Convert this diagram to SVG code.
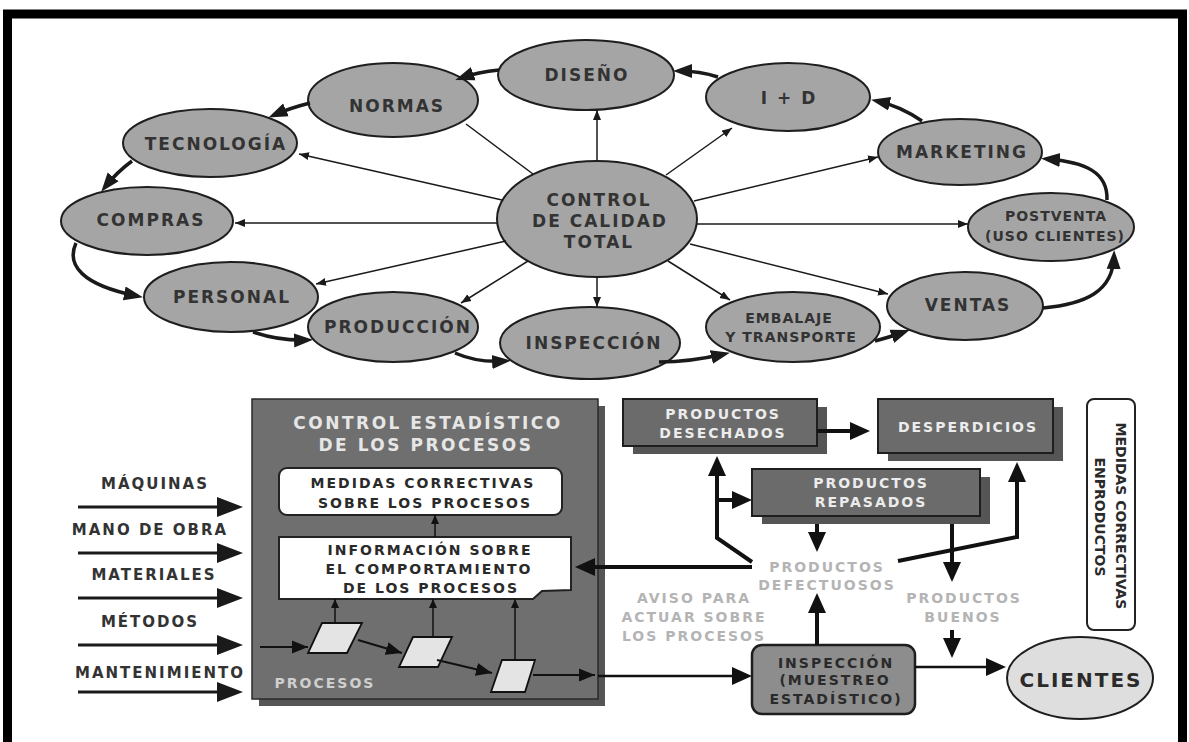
<svg xmlns="http://www.w3.org/2000/svg" width="1189" height="742" viewBox="0 0 1189 742">
<style>
.el{fill:#a5a5a5;stroke:#1e1e1e;stroke-width:2}
.t{font-family:'DejaVu Sans','Liberation Sans',sans-serif;font-weight:bold;text-anchor:middle}
.tl{font-size:17px;letter-spacing:2px;fill:#333}
.ts{font-size:14px;letter-spacing:1px;fill:#333}
.lab{font-size:15px;letter-spacing:2px;fill:#333}
.bx{font-size:14px;letter-spacing:2px}
.ttl{font-size:17px;letter-spacing:2.5px;fill:#e6e6e6}
.w{fill:#ececec}
.dk{fill:#2a2a2a}
.lg{fill:#b4b4b4}
.ring{fill:none;stroke:#1a1a1a;stroke-width:3.5;marker-end:url(#mr)}
.rad{fill:none;stroke:#1a1a1a;stroke-width:1.5}
.radm{marker-end:url(#mt)}
.inp{fill:none;stroke:#1a1a1a;stroke-width:3;marker-end:url(#mb)}
.thk{fill:none;stroke:#111;stroke-width:4;marker-end:url(#mk)}
.mid{fill:none;stroke:#111;stroke-width:2;marker-end:url(#mm)}
.med{fill:none;stroke:#111;stroke-width:2.5;marker-end:url(#mk)}
.sm{fill:none;stroke:#111;stroke-width:1.5;marker-end:url(#ms)}
.dbox{fill:#6b6b6b;stroke:#1e1e1e;stroke-width:2}
.shd{fill:#555}
.wbox{fill:#fff;stroke:#222;stroke-width:2}
.par{fill:#e4e4e4;stroke:#111;stroke-width:1.8}
</style>
<defs>
<marker id="mr" markerUnits="userSpaceOnUse" markerWidth="20" markerHeight="16" refX="13" refY="8" orient="auto"><path d="M0,1 L19,8 L0,15 z" fill="#1a1a1a"/></marker>
<marker id="mt" markerUnits="userSpaceOnUse" markerWidth="11" markerHeight="9" refX="10" refY="4.5" orient="auto"><path d="M0,0.5 L10,4.5 L0,8.5 z" fill="#1a1a1a"/></marker>
<marker id="mb" markerUnits="userSpaceOnUse" markerWidth="27" markerHeight="22" refX="18" refY="11" orient="auto"><path d="M0,1 L26,11 L0,21 z" fill="#1a1a1a"/></marker>
<marker id="mk" markerUnits="userSpaceOnUse" markerWidth="21" markerHeight="18" refX="14" refY="9" orient="auto"><path d="M0,0 L20,9 L0,18 z" fill="#111"/></marker>
<marker id="mm" markerUnits="userSpaceOnUse" markerWidth="17" markerHeight="14" refX="16" refY="7" orient="auto"><path d="M0,0.5 L16,7 L0,13.5 z" fill="#111"/></marker>
<marker id="ms" markerUnits="userSpaceOnUse" markerWidth="9" markerHeight="8" refX="9" refY="4" orient="auto"><path d="M0,0 L9,4 L0,8 z" fill="#111"/></marker>
</defs>
<rect x="0" y="0" width="1189" height="742" fill="#fff"/>
<rect x="7.5" y="14" width="1175" height="800" fill="none" stroke="#000" stroke-width="9"/>

<!-- Top ring nodes -->
<g id="n-diseno"><ellipse class="el" cx="586" cy="75" rx="88" ry="35"/><text class="t tl" x="587" y="81">DISEÑO</text></g>
<g id="n-normas"><ellipse class="el" cx="393" cy="100" rx="85" ry="37"/><text class="t tl" x="397" y="112">NORMAS</text></g>
<g id="n-tecnologia"><ellipse class="el" cx="210" cy="143" rx="87" ry="34"/><text class="t tl" x="216" y="150">TECNOLOGÍA</text></g>
<g id="n-compras"><ellipse class="el" cx="147" cy="221" rx="86" ry="34"/><text class="t tl" x="151" y="226">COMPRAS</text></g>
<g id="n-personal"><ellipse class="el" cx="231" cy="297" rx="87" ry="35"/><text class="t tl" x="232" y="303">PERSONAL</text></g>
<g id="n-produccion"><ellipse class="el" cx="393" cy="327" rx="85" ry="35"/><text class="t tl" x="398" y="333">PRODUCCIÓN</text></g>
<g id="n-inspeccion"><ellipse class="el" cx="590" cy="343" rx="90" ry="36"/><text class="t tl" x="594" y="349">INSPECCIÓN</text></g>
<g id="n-embalaje"><ellipse class="el" cx="793" cy="327" rx="87" ry="35"/><text class="t ts" x="789" y="323">EMBALAJE</text><text class="t ts" x="791" y="342">Y TRANSPORTE</text></g>
<g id="n-ventas"><ellipse class="el" cx="965" cy="306" rx="78" ry="34"/><text class="t tl" x="968" y="311">VENTAS</text></g>
<g id="n-postventa"><ellipse class="el" cx="1051" cy="227" rx="83" ry="34"/><text class="t ts" x="1056" y="221">POSTVENTA</text><text class="t ts" x="1055" y="241">(USO CLIENTES)</text></g>
<g id="n-marketing"><ellipse class="el" cx="960" cy="152" rx="82" ry="33"/><text class="t tl" x="962" y="158">MARKETING</text></g>
<g id="n-imasd"><ellipse class="el" cx="788" cy="97" rx="82" ry="34"/><text class="t tl" x="789" y="104">I + D</text></g>
<g id="n-control"><ellipse class="el" cx="597" cy="219" rx="100" ry="58"/><text class="t tl" x="599" y="206">CONTROL</text><text class="t tl" x="600" y="227">DE CALIDAD</text><text class="t tl" x="599" y="248">TOTAL</text></g>

<!-- Bottom nodes -->
<g id="n-spc">
<rect class="shd" x="259" y="406" width="346" height="300" fill="#4b4b4b"/>
<rect x="252" y="399" width="346" height="300" fill="#6f6f6f" stroke="#2a2a2a" stroke-width="1.5"/>
<text class="t ttl" x="428" y="429">CONTROL ESTADÍSTICO</text>
<text class="t ttl" x="426" y="451">DE LOS PROCESOS</text>
<text class="t bx" x="325" y="688" fill="#cfcfcf">PROCESOS</text>
</g>
<g id="n-medidas-proc"><rect class="wbox" x="279" y="468" width="283" height="47" rx="8"/><text class="t bx dk" x="423" y="488">MEDIDAS CORRECTIVAS</text><text class="t bx dk" x="425" y="508">SOBRE LOS PROCESOS</text></g>
<g id="n-informacion"><path class="wbox" d="M279,537 H571 V590 L542,591 L533,599 H279 Z"/><text class="t bx dk" x="430" y="555">INFORMACIÓN SOBRE</text><text class="t bx dk" x="429" y="574">EL COMPORTAMIENTO</text><text class="t bx dk" x="431" y="593">DE LOS PROCESOS</text></g>
<g id="n-p1"><polygon class="par" points="322,623 362,623 347,653 308,653"/></g>
<g id="n-p2"><polygon class="par" points="413,637 452,637 438,667 399,667"/></g>
<g id="n-p3"><polygon class="par" points="502,660 535,660 525,692 491,692"/></g>
<g id="n-inputs">
<text class="t lab" x="155" y="489">MÁQUINAS</text>
<text class="t lab" x="150" y="535">MANO DE OBRA</text>
<text class="t lab" x="154" y="580">MATERIALES</text>
<text class="t lab" x="150" y="627">MÉTODOS</text>
<text class="t lab" x="160" y="678">MANTENIMIENTO</text>
</g>
<g id="n-desechados"><rect class="shd" x="633" y="407" width="194" height="47"/><rect class="dbox" x="623" y="399" width="194" height="47"/><text class="t bx w" x="723" y="419">PRODUCTOS</text><text class="t bx w" x="723" y="438">DESECHADOS</text></g>
<g id="n-desperdicios"><rect class="shd" x="888" y="407" width="175" height="54"/><rect class="dbox" x="878" y="399" width="175" height="54"/><text class="t bx w" x="968" y="432">DESPERDICIOS</text></g>
<g id="n-repasados"><rect class="shd" x="762" y="477" width="228" height="47"/><rect class="dbox" x="752" y="469" width="228" height="47"/><text class="t bx w" x="871" y="488">PRODUCTOS</text><text class="t bx w" x="871" y="507">REPASADOS</text></g>
<g id="n-defectuosos"><text class="t bx lg" x="827" y="572">PRODUCTOS</text><text class="t bx lg" x="827" y="590">DEFECTUOSOS</text></g>
<g id="n-aviso"><text class="t bx lg" x="694" y="603">AVISO PARA</text><text class="t bx lg" x="694" y="622">ACTUAR SOBRE</text><text class="t bx lg" x="694" y="641">LOS PROCESOS</text></g>
<g id="n-buenos"><text class="t bx lg" x="964" y="603">PRODUCTOS</text><text class="t bx lg" x="963" y="622">BUENOS</text></g>
<g id="n-inspeccion-est"><rect x="752" y="645" width="163" height="69" rx="10" fill="#8d8d8d" stroke="#1e1e1e" stroke-width="2.5"/><text class="t bx dk" x="836" y="668">INSPECCIÓN</text><text class="t bx dk" x="835" y="685">(MUESTREO</text><text class="t bx dk" x="836" y="704">ESTADÍSTICO)</text></g>
<g id="n-clientes"><ellipse cx="1080" cy="678" rx="73" ry="41" fill="#dedede" stroke="#1e1e1e" stroke-width="2"/><text class="t dk" x="1081" y="687" font-size="20" letter-spacing="2">CLIENTES</text></g>
<g id="n-medidas-prod"><rect class="wbox" x="1087" y="399" width="48" height="231" rx="7"/><text class="t dk" font-size="14" transform="translate(1116,516) rotate(90)">MEDIDAS CORRECTIVAS</text><text class="t dk" font-size="14" transform="translate(1095,517) rotate(90)">ENPRODUCTOS</text></g>

<!-- Connectors -->
<g id="connectors">
<path class="rad radm" d="M597,161 L597,110"/>
<path class="rad radm" d="M666,175 L732,128"/>
<path class="rad radm" d="M694,201 L878,157"/>
<path class="rad radm" d="M697,224 L968,224"/>
<path class="rad radm" d="M690,244 L888,294"/>
<path class="rad radm" d="M668,261 L730,300"/>
<path class="rad radm" d="M597,277 L597,307"/>
<path class="rad radm" d="M528,261 L461,303"/>
<path class="rad radm" d="M506,241 L316,284"/>
<path class="rad radm" d="M497,223 L235,223"/>
<path class="rad radm" d="M502,200 L299,154"/>
<path class="rad" d="M533,174 L466,124"/>

<path class="ring" d="M718,77 Q700,71 679,71"/>
<path class="ring" d="M499,70 Q478,72 461,78"/>
<path class="ring" d="M310,103 Q290,108 274,115"/>
<path class="ring" d="M132,161 Q117,172 105,187"/>
<path class="ring" d="M76,243 C66,265 82,285 137,296"/>
<path class="ring" d="M253,332 Q280,341 307,340"/>
<path class="ring" d="M455,353 Q478,363 505,361"/>
<path class="ring" d="M659,362 Q690,362 724,354"/>
<path class="ring" d="M875,341 Q890,337 904,332"/>
<path class="ring" d="M1043,308 C1085,304 1113,292 1114,256"/>
<path class="ring" d="M1107,200 C1108,172 1085,162 1047,159"/>
<path class="ring" d="M922,121 Q900,106 877,101"/>

<path class="inp" d="M78,507 L235,507"/>
<path class="inp" d="M78,553 L235,553"/>
<path class="inp" d="M78,598 L235,598"/>
<path class="inp" d="M78,645 L235,645"/>
<path class="inp" d="M78,692 L235,692"/>

<path class="mid" d="M260,647 L308,647"/>
<path class="mid" d="M358,640 L402,653"/>
<path class="mid" d="M437,660 L492,673"/>
<path class="mid" d="M533,675 L595,675"/>
<path class="med" d="M598,676 L746,676"/>

<path class="sm" d="M435,537 L435,515"/>
<path class="sm" d="M335,622 L335,599"/>
<path class="sm" d="M433,637 L433,599"/>
<path class="sm" d="M515,660 L515,599"/>

<path class="thk" d="M752,567 L581,567"/>
<path class="thk" d="M752,562 L717,538 L717,462"/>
<path class="thk" d="M717,500 L746,500"/>
<path class="thk" d="M898,561 L1017,537 L1017,468"/>
<path class="thk" d="M817,431 L864,431"/>
<path class="thk" d="M817,524 L817,546"/>
<path class="thk" d="M952,524 L952,576"/>
<path class="thk" d="M817,645 L817,599"/>
<path class="thk" d="M952,630 L952,652"/>
<path class="med" d="M915,667 L1000,667"/>
</g>
</svg>
